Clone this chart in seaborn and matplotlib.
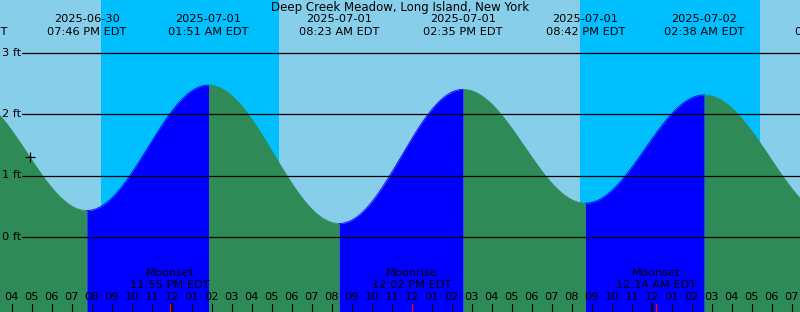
import numpy as np
import pandas as pd
import matplotlib
matplotlib.use("Agg")
import matplotlib.pyplot as plt
import matplotlib.transforms as mtransforms
import seaborn as sns

# ---------------- data ----------------
title = "Deep Creek Meadow, Long Island, New York"
start = pd.Timestamp("2025-06-30 16:00")

tide_times = ["2025-06-30 13:49", "2025-06-30 19:46", "2025-07-01 01:51",
              "2025-07-01 08:23", "2025-07-01 14:35", "2025-07-01 20:42",
              "2025-07-02 02:38", "2025-07-02 09:11"]
tide_heights = [2.29, 0.43, 2.47, 0.22, 2.40, 0.55, 2.31, 0.29]
tide_dates = ["2025-06-30", "2025-06-30", "2025-07-01", "2025-07-01",
              "2025-07-01", "2025-07-01", "2025-07-02", "2025-07-02"]
tide_clock = ["01:49 PM EDT", "07:46 PM EDT", "01:51 AM EDT", "08:23 AM EDT",
              "02:35 PM EDT", "08:42 PM EDT", "02:38 AM EDT", "09:11 AM EDT"]

night_starts = ["2025-06-30 20:27", "2025-07-01 20:24"]
night_ends = ["2025-07-01 05:22", "2025-07-02 05:24"]

moon_times = ["2025-06-30 23:55", "2025-07-01 12:02", "2025-07-02 00:14"]
moon_names = ["Moonset", "Moonrise", "Moonset"]
moon_clock = ["11:55 PM EDT", "12:02 PM EDT", "12:14 AM EDT"]

hour_labels = ["04", "05", "06", "07", "08", "09", "10", "11", "12", "01", "02", "03"] * 4
hour_labels = hour_labels[:40]
midnight_times = ["2025-07-01 00:00", "2025-07-02 00:00"]

y_levels = [0, 1, 2, 3]
y_labels = ["0 ft", "1 ft", "2 ft", "3 ft"]
now_time = "2025-06-30 16:55"

# colours (XTide defaults)
day_col = "#87CEEB"
night_col = "#00BFFF"
flood_col = "#0000FF"
ebb_col = "#2E8B57"

FS = 8.2


def hrs(s):
    return (pd.Timestamp(s) - start).total_seconds() / 3600.0


t_ext = np.array([hrs(s) for s in tide_times])
h_ext = np.array(tide_heights)


def tide_at(t):
    t = np.atleast_1d(t).astype(float)
    out = np.empty_like(t)
    for k, tt in enumerate(t):
        i = np.searchsorted(t_ext, tt) - 1
        i = min(max(i, 0), len(t_ext) - 2)
        p = (tt - t_ext[i]) / (t_ext[i + 1] - t_ext[i])
        out[k] = h_ext[i] + (h_ext[i + 1] - h_ext[i]) * (1 - np.cos(np.pi * p)) / 2
    return out


# ---------------- figure ----------------
sns.set_theme(style="white")
plt.rcParams["font.family"] = ["DejaVu Sans"]

W, H = 800, 312
fig = plt.figure(figsize=(W / 100, H / 100), dpi=100)
ax = fig.add_axes([0, 0, 1, 1])
x0, kpx = 11.5, 20.0
xmin, xmax = -x0 / kpx, (W - x0) / kpx
y0px, ftpx = 237.0, 61.5
ymax = y0px / ftpx
ymin = (y0px - H) / ftpx
ax.set_xlim(xmin, xmax)
ax.set_ylim(ymin, ymax)
ax.set_facecolor(day_col)
for s in ax.spines.values():
    s.set_visible(False)
ax.set_xticks([])
ax.set_yticks([])

for a, b in zip(night_starts, night_ends):
    ax.axvspan(hrs(a), hrs(b), color=night_col, lw=0, zorder=0.5)

# water, segment by segment
rows = []
for i in range(len(t_ext) - 1):
    ta, tb = max(t_ext[i], xmin - 0.1), min(t_ext[i + 1], xmax + 0.1)
    if tb <= ta:
        continue
    tt = np.linspace(ta, tb, 200)
    hh = tide_at(tt)
    rising = h_ext[i + 1] > h_ext[i]
    col = flood_col if rising else ebb_col
    ax.fill_between(tt, hh, ymin - 1, color=col, lw=0, zorder=1)
    rows.append(pd.DataFrame({"t": tt, "h": hh, "seg": i,
                              "phase": "flood" if rising else "ebb"}))
df = pd.concat(rows, ignore_index=True)
sns.lineplot(data=df, x="t", y="h", hue="phase", units="seg", estimator=None,
             palette={"flood": flood_col, "ebb": ebb_col}, lw=0.6,
             legend=False, ax=ax, zorder=1.2)
ax.set_xlabel("")
ax.set_ylabel("")
ax.set_xlim(xmin, xmax)
ax.set_ylim(ymin, ymax)

# grid lines and y labels
for lv, lab in zip(y_levels, y_labels):
    ax.axhline(lv, xmin=22 / W, xmax=1, color="black", lw=0.9, zorder=3)
    ax.text(2 / W, lv, lab, transform=mtransforms.blended_transform_factory(ax.transAxes, ax.transData),
            ha="left", va="center", fontsize=FS, color="black", zorder=4)

trans = mtransforms.blended_transform_factory(ax.transData, ax.transAxes)


def fy(py):
    return 1 - py / H


# title and tide labels
ax.text(0.5, fy(7.5), title, transform=ax.transAxes, ha="center", va="center",
        fontsize=FS + 0.3, color="black", zorder=5)
for t, d, c in zip(t_ext, tide_dates, tide_clock):
    ax.text(t, fy(19.5), d, transform=trans, ha="center", va="center",
            fontsize=FS, color="black", zorder=5, clip_on=False)
    ax.text(t, fy(32), c, transform=trans, ha="center", va="center",
            fontsize=FS, color="black", zorder=5, clip_on=False)

# hour ticks and labels
for i, lab in enumerate(hour_labels):
    ax.text(i, fy(297.5), lab, transform=trans, ha="center", va="center",
            fontsize=FS, color="black", zorder=5)
    ax.plot([i, i], [fy(303.5), 0], transform=trans, color="black", lw=0.8, zorder=4)
for m in midnight_times:
    ax.plot([hrs(m), hrs(m)], [fy(303.5), 0], transform=trans, color="black", lw=1.6, zorder=4)

# moon events
for mt, nm, mc in zip(moon_times, moon_names, moon_clock):
    t = hrs(mt)
    ax.text(t, fy(273), nm, transform=trans, ha="center", va="center",
            fontsize=FS, color="black", zorder=5)
    ax.text(t, fy(285), mc, transform=trans, ha="center", va="center",
            fontsize=FS, color="black", zorder=5)
    ax.plot([t, t], [fy(303.5), 0], transform=trans, color="red", lw=0.9, zorder=4.5)

# current-time marker
tn = hrs(now_time)
ax.plot([tn], tide_at(tn), marker="+", color="black", markersize=7, mew=0.9, zorder=6)

fig.savefig("out.png", dpi=100)
